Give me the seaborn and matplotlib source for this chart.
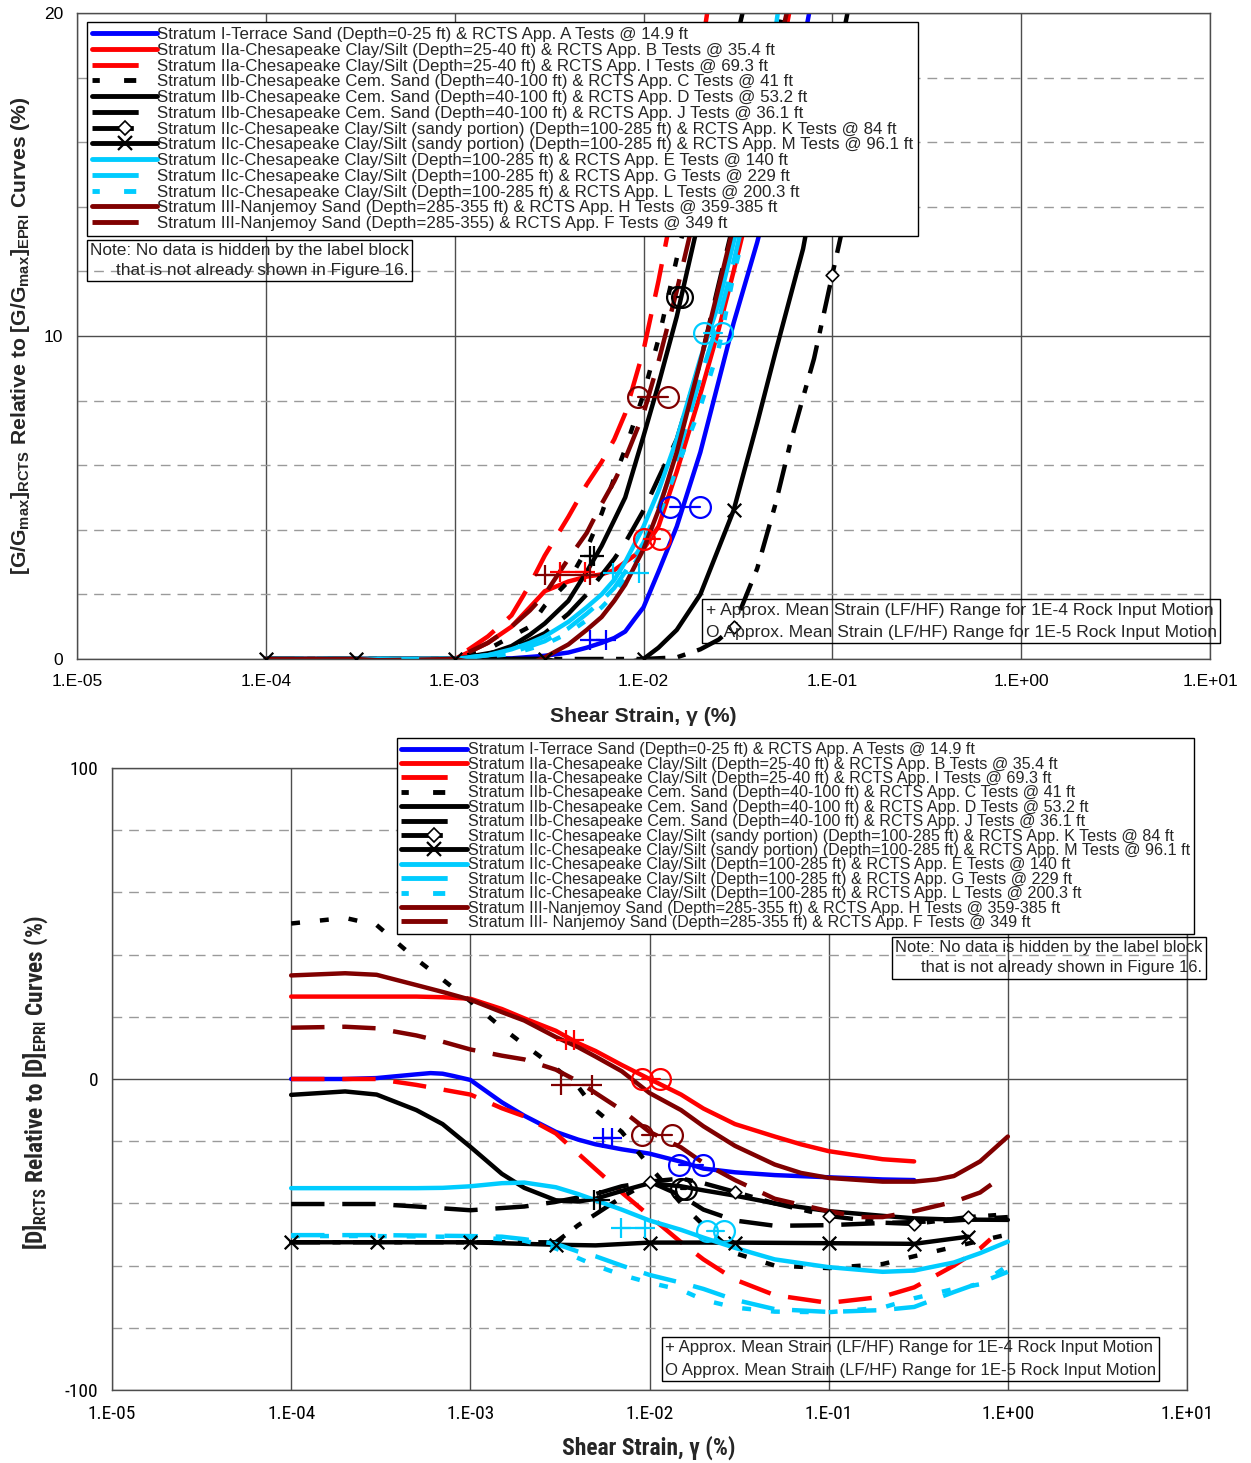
import matplotlib
matplotlib.use("Agg")
import numpy as np
import pandas as pd
import matplotlib.pyplot as plt
from matplotlib.lines import Line2D
from matplotlib.ticker import FixedLocator, FixedFormatter, LogLocator, NullFormatter, MultipleLocator
from matplotlib import font_manager
from matplotlib.font_manager import FontProperties
from matplotlib.textpath import TextPath
import seaborn as sns

sns.set_style("white")
BASE = ["Liberation Sans", "DejaVu Sans"]
plt.rcParams["font.family"] = BASE
plt.rcParams["axes.unicode_minus"] = False

# ---------------------------------------------------------------- series
ORDER = ["A", "B", "I", "C", "D", "J", "K", "M", "E", "G", "L", "H", "F"]

LABELS_G = [
    "Stratum I-Terrace Sand (Depth=0-25 ft) & RCTS App. A Tests @ 14.9 ft",
    "Stratum IIa-Chesapeake Clay/Silt (Depth=25-40 ft) & RCTS App. B Tests @ 35.4 ft",
    "Stratum IIa-Chesapeake Clay/Silt (Depth=25-40 ft) & RCTS App. I Tests @ 69.3 ft",
    "Stratum IIb-Chesapeake Cem. Sand (Depth=40-100 ft) & RCTS App. C Tests @ 41 ft",
    "Stratum IIb-Chesapeake Cem. Sand (Depth=40-100 ft) & RCTS App. D Tests @ 53.2 ft",
    "Stratum IIb-Chesapeake Cem. Sand (Depth=40-100 ft) & RCTS App. J Tests @ 36.1 ft",
    "Stratum IIc-Chesapeake Clay/Silt (sandy portion) (Depth=100-285 ft) & RCTS App. K Tests @ 84 ft",
    "Stratum IIc-Chesapeake Clay/Silt (sandy portion) (Depth=100-285 ft) & RCTS App. M Tests @ 96.1 ft",
    "Stratum IIc-Chesapeake Clay/Silt (Depth=100-285 ft) & RCTS App. E Tests @ 140 ft",
    "Stratum IIc-Chesapeake Clay/Silt (Depth=100-285 ft) & RCTS App. G Tests @ 229 ft",
    "Stratum IIc-Chesapeake Clay/Silt (Depth=100-285 ft) & RCTS App. L Tests @ 200.3 ft",
    "Stratum III-Nanjemoy Sand (Depth=285-355 ft) & RCTS App. H Tests @ 359-385 ft",
    "Stratum III-Nanjemoy Sand (Depth=285-355) & RCTS App. F Tests @ 349 ft",
]
LABELS_D = LABELS_G[:-1] + [
    "Stratum III- Nanjemoy Sand (Depth=285-355 ft) & RCTS App. F Tests @ 349 ft"]

# G/Gmax difference (%) versus shear strain (%)
g_strain_A = [1e-4, 1e-3, 2e-3, 3e-3, 4e-3, 5e-3, 6e-3, 7e-3, 8e-3, 9e-3, 1e-2, 1.2e-2, 1.5e-2, 2e-2, 2.5e-2, 3e-2, 4e-2, 5e-2, 7e-2, 8e-2]
g_value_A = [0, 0, 0.02, 0.1, 0.2, 0.35, 0.5, 0.65, 0.85, 1.25, 1.6, 2.7, 4.1, 6.4, 8.6, 10.4, 12.9, 15.1, 19.0, 20.8]
g_strain_B = [1e-4, 3e-4, 1e-3, 1.5e-3, 2e-3, 2.5e-3, 3e-3, 4e-3, 5e-3, 6e-3, 7e-3, 8e-3, 1e-2, 1.2e-2, 1.5e-2, 2e-2, 2.5e-2, 3e-2, 4e-2, 5e-2, 6e-2]
g_value_B = [0, -0.05, 0, 0.5, 1.0, 1.6, 2.1, 2.4, 2.55, 2.62, 2.75, 3.0, 3.4, 4.1, 5.8, 8.2, 10.2, 12.0, 15.0, 17.8, 20.2]
g_strain_I = [1e-4, 3e-4, 6e-4, 1e-3, 1.5e-3, 2e-3, 2.5e-3, 3e-3, 4e-3, 5e-3, 6e-3, 7e-3, 8e-3, 1e-2, 1.2e-2, 1.5e-2, 2e-2, 2.2e-2]
g_value_I = [0, -0.05, -0.1, 0, 0.7, 1.35, 2.3, 3.2, 4.4, 5.4, 6.1, 6.8, 7.6, 9.56, 11.7, 14.6, 18.6, 20.2]
g_strain_C = [1e-4, 1e-3, 1.5e-3, 2e-3, 2.5e-3, 3e-3, 4e-3, 5e-3, 6e-3, 7e-3, 8e-3, 1e-2, 1.2e-2, 1.5e-2, 2e-2, 3e-2]
g_value_C = [0, 0, 0.3, 0.7, 1.0, 1.65, 2.4, 3.4, 4.5, 5.6, 6.5, 8.2, 9.9, 12.4, 15.5, 20.5]
g_strain_D = [1e-4, 1e-3, 1.5e-3, 2e-3, 2.5e-3, 3e-3, 4e-3, 5e-3, 6e-3, 7e-3, 8e-3, 1e-2, 1.2e-2, 1.5e-2, 2e-2, 2.5e-2, 3e-2, 3.5e-2]
g_value_D = [0, 0, 0.15, 0.4, 0.75, 1.1, 1.8, 2.7, 3.5, 4.3, 5.0, 6.9, 8.5, 10.6, 13.8, 16.5, 18.8, 20.5]
g_strain_J = [1e-4, 1e-3, 2e-3, 3e-3, 4e-3, 5e-3, 6e-3, 7e-3, 8e-3, 1e-2, 1.2e-2, 1.5e-2, 2e-2, 2.5e-2, 3e-2, 4e-2, 5e-2, 6e-2]
g_value_J = [0, 0, 0.3, 0.8, 1.4, 2.0, 2.6, 3.1, 3.6, 4.6, 5.6, 6.8, 9.2, 11.6, 13.5, 16.5, 19.0, 21.0]
g_strain_K = [1e-4, 3e-4, 1e-3, 3e-3, 1e-2, 1.5e-2, 2e-2, 2.5e-2, 3e-2, 4e-2, 5e-2, 6e-2, 7e-2, 8e-2, 1e-1, 1.2e-1, 1.5e-1, 2e-1]
g_value_K = [0, 0, 0, 0, 0, 0.05, 0.3, 0.6, 1.0, 2.8, 4.8, 6.7, 8.1, 9.3, 11.9, 14.0, 16.8, 20.5]
g_strain_M = [1e-4, 3e-4, 1e-3, 3e-3, 5e-3, 7e-3, 1e-2, 1.2e-2, 1.5e-2, 2e-2, 3e-2, 4e-2, 5e-2, 7e-2, 1e-1, 1.25e-1]
g_value_M = [0, 0, 0, 0, -0.25, -0.2, 0, 0.35, 0.9, 2.0, 4.6, 7.3, 9.5, 12.7, 17.6, 20.5]
g_strain_E = [1e-4, 1e-3, 1.5e-3, 2e-3, 2.5e-3, 3e-3, 4e-3, 5e-3, 6e-3, 7e-3, 8e-3, 1e-2, 1.2e-2, 1.5e-2, 2e-2, 2.5e-2, 3e-2, 4e-2, 5e-2, 5.2e-2]
g_value_E = [0, 0, 0.12, 0.3, 0.5, 0.7, 1.15, 1.6, 2.0, 2.45, 3.0, 4.1, 5.2, 6.8, 9.3, 11.0, 12.9, 16.0, 19.5, 20.2]
g_strain_G = [1e-4, 1e-3, 2e-3, 3e-3, 4e-3, 5e-3, 6e-3, 7e-3, 8e-3, 1e-2, 1.2e-2, 1.5e-2, 2e-2, 2.5e-2, 3e-2, 4e-2, 5e-2, 5.5e-2]
g_value_G = [0, 0, 0.2, 0.55, 0.95, 1.4, 1.8, 2.2, 2.7, 3.6, 4.7, 6.2, 8.7, 10.5, 12.3, 15.4, 18.5, 20.2]
g_strain_L = [1e-4, 1e-3, 2e-3, 3e-3, 4e-3, 5e-3, 6e-3, 7e-3, 8e-3, 1e-2, 1.2e-2, 1.5e-2, 2e-2, 2.5e-2, 3e-2, 4e-2, 5e-2, 6e-2]
g_value_L = [0, 0, 0.15, 0.45, 0.8, 1.2, 1.6, 2.0, 2.5, 3.4, 4.4, 5.9, 7.8, 9.6, 11.9, 14.8, 17.5, 20.3]
g_strain_H = [1e-4, 3e-4, 6e-4, 1e-3, 1.5e-3, 2e-3, 2.5e-3, 3e-3, 4e-3, 5e-3, 6e-3, 7e-3, 8e-3, 1e-2, 1.2e-2, 1.5e-2, 2e-2, 2.5e-2, 3e-2, 4e-2, 5e-2, 6e-2]
g_value_H = [0, 0, -0.1, 0, -0.2, -0.25, -0.15, 0.05, 0.45, 0.9, 1.3, 1.8, 2.3, 3.4, 4.6, 6.4, 9.2, 11.5, 13.4, 16.2, 18.5, 20.5]
g_strain_F = [1e-4, 3e-4, 1e-3, 1.5e-3, 2e-3, 2.5e-3, 3e-3, 4e-3, 5e-3, 6e-3, 7e-3, 8e-3, 1e-2, 1.2e-2, 1.5e-2, 2e-2, 2.5e-2, 3e-2]
g_value_F = [0, -0.05, 0, 0.5, 1.0, 1.5, 2.0, 3.1, 3.9, 4.8, 5.5, 6.2, 7.6, 9.2, 11.4, 14.5, 17.5, 20.3]

# damping difference (%) versus shear strain (%)
d_strain_A = [1e-4, 2e-4, 3e-4, 5e-4, 6e-4, 7e-4, 8e-4, 1e-3, 1.5e-3, 2e-3, 3e-3, 4e-3, 5e-3, 7e-3, 1e-2, 1.5e-2, 2e-2, 3e-2, 5e-2, 1e-1, 2e-1, 3e-1]
d_value_A = [0, 0, 0.3, 1.5, 1.9, 1.7, 1.0, -0.3, -7.5, -11.8, -17.0, -19.5, -21.0, -22.6, -24.0, -26.6, -28.8, -30.0, -30.9, -31.6, -32.3, -32.5]
d_strain_B = [1e-4, 3e-4, 5e-4, 7e-4, 1e-3, 1.5e-3, 2e-3, 3e-3, 4e-3, 5e-3, 7e-3, 1e-2, 1.5e-2, 2e-2, 3e-2, 5e-2, 7e-2, 1e-1, 2e-1, 3e-1]
d_value_B = [26.5, 26.5, 26.5, 26.3, 25.8, 22.5, 19.5, 15.5, 11.5, 9.0, 4.5, 0.0, -5.0, -9.5, -14.5, -18.5, -21.0, -23.2, -25.8, -26.5]
d_strain_I = [1e-4, 2e-4, 3e-4, 5e-4, 7e-4, 1e-3, 1.5e-3, 2e-3, 3e-3, 4e-3, 5e-3, 7e-3, 1e-2, 1.5e-2, 2e-2, 3e-2, 5e-2, 1e-1, 2e-1, 3e-1, 5e-1, 7e-1, 8e-1]
d_value_I = [0, 0, 0, -1.9, -3.4, -5.0, -9.4, -12.0, -17.5, -24.0, -29.0, -36.5, -44.0, -52.5, -58.0, -64.5, -69.5, -72.0, -70.0, -67.0, -60.0, -54.5, -51.5]
d_strain_C = [1e-4, 2e-4, 3e-4, 5e-4, 7e-4, 1e-3, 1.5e-3, 2e-3, 3e-3, 4e-3, 5e-3, 7e-3, 1e-2, 1.5e-2, 2e-2, 3e-2, 5e-2, 1e-1, 2e-1, 3e-1, 5e-1, 7e-1, 1.0]
d_value_C = [50.0, 51.8, 49.5, 38.5, 32.0, 25.0, 16.5, 11.0, 3.5, -2.5, -10.0, -17.0, -28.0, -40.0, -47.0, -56.0, -60.0, -60.8, -59.5, -57.0, -54.0, -52.0, -50.0]
d_strain_D = [1e-4, 2e-4, 3e-4, 5e-4, 7e-4, 1e-3, 1.5e-3, 2e-3, 3e-3, 4e-3, 5e-3, 7e-3, 1e-2, 1.5e-2, 2e-2, 3e-2, 5e-2, 1e-1, 2e-1, 3e-1, 5e-1, 1.0]
d_value_D = [-5.1, -4.0, -5.0, -10.0, -14.5, -21.8, -30.5, -35.0, -39.0, -39.4, -38.5, -36.0, -33.5, -34.5, -35.8, -37.5, -40.0, -42.5, -44.0, -44.8, -45.2, -45.3]
d_strain_J = [1e-4, 3e-4, 5e-4, 1e-3, 2e-3, 3e-3, 5e-3, 7e-3, 1e-2, 1.5e-2, 2e-2, 3e-2, 5e-2, 1e-1, 2e-1, 3e-1, 5e-1, 1.0]
d_value_J = [-40.2, -40.2, -41.0, -42.2, -41.0, -39.5, -37.0, -34.5, -33.0, -37.5, -42.0, -45.5, -47.2, -47.0, -46.3, -46.0, -45.5, -44.4]
d_strain_K = [1e-4, 3e-4, 1e-3, 3e-3, 4e-3, 5e-3, 7e-3, 1e-2, 1.5e-2, 2e-2, 3e-2, 5e-2, 1e-1, 2e-1, 3e-1, 6e-1, 1.0]
d_value_K = [-52.5, -52.5, -52.5, -52.5, -47.0, -43.5, -38.0, -33.0, -32.0, -33.5, -36.3, -40.0, -44.0, -46.2, -46.6, -44.4, -43.5]
d_strain_M = [1e-4, 3e-4, 1e-3, 2e-3, 3e-3, 5e-3, 1e-2, 3e-2, 1e-1, 3e-1, 6e-1]
d_value_M = [-52.5, -52.5, -52.5, -53.0, -53.3, -53.5, -52.6, -52.6, -52.8, -53.0, -50.7]
d_strain_E = [1e-4, 3e-4, 5e-4, 7e-4, 1e-3, 1.5e-3, 2e-3, 3e-3, 4e-3, 5e-3, 7e-3, 1e-2, 1.5e-2, 2e-2, 3e-2, 5e-2, 1e-1, 2e-1, 3e-1, 5e-1, 7e-1, 1.0]
d_value_E = [-35.1, -35.1, -35.1, -35.0, -34.5, -33.5, -33.3, -34.8, -37.0, -39.0, -42.0, -45.5, -48.5, -51.0, -54.3, -58.0, -60.5, -62.0, -61.6, -59.0, -56.0, -52.3]
d_strain_G = [1e-4, 3e-4, 1e-3, 1.5e-3, 2e-3, 3e-3, 4e-3, 5e-3, 7e-3, 1e-2, 1.5e-2, 2e-2, 3e-2, 5e-2, 1e-1, 2e-1, 3e-1, 5e-1, 7e-1, 1.0]
d_value_G = [-50.2, -50.2, -50.5, -50.7, -51.5, -53.0, -55.5, -57.0, -60.0, -63.0, -65.5, -67.5, -71.0, -74.0, -74.9, -74.3, -73.3, -68.5, -65.5, -62.0]
d_strain_L = [1e-4, 3e-4, 1e-3, 2e-3, 3e-3, 5e-3, 7e-3, 1e-2, 1.5e-2, 2e-2, 3e-2, 5e-2, 1e-1, 2e-1, 3e-1, 5e-1, 7e-1, 1.0]
d_value_L = [-50.5, -50.5, -50.8, -52.0, -54.5, -60.0, -63.0, -65.5, -67.8, -71.0, -73.5, -74.8, -75.0, -73.5, -70.5, -67.5, -66.0, -60.0]
d_strain_H = [1e-4, 2e-4, 3e-4, 5e-4, 7e-4, 1e-3, 1.5e-3, 2e-3, 3e-3, 4e-3, 5e-3, 7e-3, 1e-2, 1.5e-2, 2e-2, 3e-2, 5e-2, 7e-2, 1e-1, 2e-1, 3e-1, 4e-1, 5e-1, 7e-1, 1.0]
d_value_H = [33.3, 34.0, 33.5, 30.2, 28.0, 25.5, 21.5, 18.8, 13.5, 10.2, 7.2, 2.5, -4.5, -10.0, -15.2, -21.5, -27.5, -30.2, -31.8, -33.0, -33.0, -32.3, -31.2, -26.5, -18.5]
d_strain_F = [1e-4, 2e-4, 3e-4, 5e-4, 7e-4, 1e-3, 1.5e-3, 2e-3, 3e-3, 4e-3, 5e-3, 7e-3, 1e-2, 1.5e-2, 2e-2, 3e-2, 5e-2, 1e-1, 1.5e-1, 2e-1, 3e-1, 5e-1, 7e-1, 8.5e-1]
d_value_F = [16.5, 16.8, 16.3, 14.0, 12.0, 9.5, 7.5, 6.3, 3.0, -0.8, -4.5, -10.0, -17.0, -22.0, -27.0, -32.5, -38.5, -42.5, -44.4, -44.4, -42.5, -39.5, -36.5, -33.0]

# points of the K (diamond) and M (cross) series that carry a marker
g_K_marks = [8, 14]
g_M_marks = [0, 1, 2, 3, 6, 10, 14]
d_K_marks = [7, 10, 12, 14, 15]
d_M_marks = [0, 1, 2, 4, 6, 7, 8, 9, 10]

# mean strain ranges: "+" for 1E-4 and "O" for 1E-5 rock input motion
g_plus_curve = ["A", "B", "F", "D", "E"]
g_plus_lo = [5.2e-3, 3.6e-3, 3.0e-3, 5.2e-3, 6.9e-3]
g_plus_hi = [6.3e-3, 4.9e-3, 5.2e-3, 5.5e-3, 9.5e-3]
g_plus_val = [0.6, 2.7, 2.6, 3.2, 2.66]
g_circ_curve = ["A", "B", "F", "D", "E"]
g_circ_lo = [1.38e-2, 1.0e-2, 9.4e-3, 1.5e-2, 2.1e-2]
g_circ_hi = [2.0e-2, 1.23e-2, 1.35e-2, 1.6e-2, 2.6e-2]
g_circ_val = [4.7, 3.7, 8.1, 11.2, 10.1]

d_plus_curve = ["B", "F", "A", "D", "E"]
d_plus_lo = [3.4e-3, 3.2e-3, 5.5e-3, 4.9e-3, 6.9e-3]
d_plus_hi = [3.8e-3, 4.8e-3, 6.2e-3, 5.3e-3, 9.4e-3]
d_plus_val = [12.5, -2.0, -19.0, -39.0, -48.0]
d_circ_curve = ["B", "F", "A", "D", "E"]
d_circ_lo = [9.1e-3, 9.1e-3, 1.47e-2, 1.5e-2, 2.1e-2]
d_circ_hi = [1.14e-2, 1.33e-2, 2.0e-2, 1.6e-2, 2.6e-2]
d_circ_val = [0.0, -18.0, -27.6, -35.4, -49.0]

X_TICKS = [1e-5, 1e-4, 1e-3, 1e-2, 1e-1, 1e0, 1e1]
X_TICKLABELS = ["1.E-05", "1.E-04", "1.E-03", "1.E-02", "1.E-01", "1.E+00", "1.E+01"]

G_STRAIN = dict(A=g_strain_A, B=g_strain_B, I=g_strain_I, C=g_strain_C, D=g_strain_D, J=g_strain_J, K=g_strain_K,
                M=g_strain_M, E=g_strain_E, G=g_strain_G, L=g_strain_L, H=g_strain_H, F=g_strain_F)
G_VALUE = dict(A=g_value_A, B=g_value_B, I=g_value_I, C=g_value_C, D=g_value_D, J=g_value_J, K=g_value_K,
               M=g_value_M, E=g_value_E, G=g_value_G, L=g_value_L, H=g_value_H, F=g_value_F)
D_STRAIN = dict(A=d_strain_A, B=d_strain_B, I=d_strain_I, C=d_strain_C, D=d_strain_D, J=d_strain_J, K=d_strain_K,
                M=d_strain_M, E=d_strain_E, G=d_strain_G, L=d_strain_L, H=d_strain_H, F=d_strain_F)
D_VALUE = dict(A=d_value_A, B=d_value_B, I=d_value_I, C=d_value_C, D=d_value_D, J=d_value_J, K=d_value_K,
               M=d_value_M, E=d_value_E, G=d_value_G, L=d_value_L, H=d_value_H, F=d_value_F)

# ---------------------------------------------------------------- fonts
def find_condensed():
    entries = font_manager.fontManager.ttflist
    names = {f.name for f in entries}
    for nm in ["Liberation Sans Narrow", "Arial Narrow", "Roboto Condensed", "Open Sans Condensed",
               "Noto Sans Condensed", "DejaVu Sans Condensed"]:
        if nm in names:
            return dict(family=[nm] + BASE, stretch="normal")
    for base in ["Roboto", "Noto Sans", "Open Sans", "DejaVu Sans"]:
        for f in entries:
            if f.name == base and str(f.stretch) in ("condensed", "semi-condensed"):
                return dict(family=[base] + BASE, stretch=str(f.stretch))
    return dict(family=BASE, stretch="normal")


def text_width(family, stretch, weight="normal"):
    sample = "Stratum IIc-Chesapeake Clay/Silt (Depth=100-285 ft) & RCTS App. E Tests @ 140 ft"
    fp = FontProperties(family=family, stretch=stretch, weight=weight, size=10)
    return TextPath((0, 0), sample, prop=fp).get_extents().width


COND = find_condensed()
RATIO = text_width(COND["family"], COND["stretch"]) / text_width(BASE, "normal")


def bfont(size_pt, weight="normal"):
    """Condensed face for the damping panel's axis text, scaled to keep label lengths."""
    return FontProperties(family=COND["family"], stretch=COND["stretch"], weight=weight,
                          size=size_pt / RATIO)


def px(size_pt):
    return size_pt * 100 / 72.0

# ---------------------------------------------------------------- styles
BLUE, RED, BLACK, CYAN, MAROON = "#0000FF", "#FF0000", "#000000", "#00CCFF", "#800000"
COLORS = dict(A=BLUE, B=RED, I=RED, C=BLACK, D=BLACK, J=BLACK, K=BLACK, M=BLACK,
              E=CYAN, G=CYAN, L=CYAN, H=MAROON, F=MAROON)
LONG = (7.5, 4.0)
DOT = (2.0, 4.5)
DASHDOT = (6.5, 2.8, 1.8, 2.8)
DASHES = dict(A="", B="", I=LONG, C=DOT, D="", J=LONG, K=DASHDOT, M="",
              E="", G=LONG, L=DOT, H="", F=LONG)
LEGEND_DASH = dict(A="-", B="-", I=(0, (9.5, 20)), C=(1.0, (2.5, 5.0)), D="-", J=(0, (9.5, 20)),
                   K=(0, (8.5, 20)), M="-", E="-", G=(0, (9.5, 20)), L=(1.0, (2.5, 5.0)), H="-",
                   F=(0, (9.5, 20)))
LW = 3.2
GRID_DARK = "#4d4d4d"
GRID_LIGHT = "#9a9a9a"


def long_frame(strains, values):
    rows = []
    for key in ORDER:
        for s, v in zip(strains[key], values[key]):
            rows.append((key, s, v))
    return pd.DataFrame(rows, columns=["curve", "strain", "value"])


def draw_panel(ax, strains, values, k_marks, m_marks, plus, circ):
    ax.set_xscale("log")
    df = long_frame(strains, values)
    sns.lineplot(data=df, x="strain", y="value", hue="curve", style="curve",
                 hue_order=ORDER, style_order=ORDER, palette=COLORS, dashes=DASHES,
                 sort=False, estimator=None, legend=False, linewidth=LW, ax=ax, zorder=2)
    ks = np.asarray(strains["K"])[k_marks]
    kv = np.asarray(values["K"])[k_marks]
    sns.scatterplot(x=ks, y=kv, marker="D", s=42, color="white", edgecolor="black",
                    linewidth=1.2, zorder=3, ax=ax)
    ms = np.asarray(strains["M"])[m_marks]
    mv = np.asarray(values["M"])[m_marks]
    sns.scatterplot(x=ms, y=mv, marker="x", s=95, color="black", linewidth=1.6, zorder=3, ax=ax)
    for curve, lo, hi, v in zip(*plus):
        ax.plot([lo, hi], [v, v], color=COLORS[curve], lw=1.6, marker="+", ms=15, mew=1.6, zorder=3)
    for curve, lo, hi, v in zip(*circ):
        ax.plot([lo, hi], [v, v], color=COLORS[curve], lw=1.6, marker="o", ms=15, mew=1.6,
                mfc="none", zorder=3)


def style_axes(ax, ylim, ymajor, yminor, tick_fp):
    ax.set_xlim(1e-5, 10)
    ax.set_ylim(*ylim)
    ax.xaxis.set_major_locator(FixedLocator(X_TICKS))
    ax.xaxis.set_major_formatter(FixedFormatter(X_TICKLABELS))
    ax.xaxis.set_minor_locator(LogLocator(base=10, subs=np.arange(2, 10), numticks=20))
    ax.xaxis.set_minor_formatter(NullFormatter())
    ax.yaxis.set_major_locator(FixedLocator(ymajor))
    ax.yaxis.set_minor_locator(MultipleLocator(yminor))
    ax.grid(axis="x", which="major", color=GRID_DARK, lw=1.0, ls="-")
    ax.grid(axis="y", which="major", color=GRID_DARK, lw=1.0, ls="-")
    ax.grid(axis="y", which="minor", color=GRID_LIGHT, lw=1.0, ls=(0, (7, 5)))
    ax.set_axisbelow(True)
    ax.tick_params(axis="x", which="major", direction="in", length=0, pad=11)
    ax.tick_params(axis="x", which="minor", direction="in", length=5, width=1, color=GRID_DARK)
    ax.tick_params(axis="y", which="major", direction="out", length=5, width=1, color=GRID_DARK, pad=5)
    ax.tick_params(axis="y", which="minor", direction="out", length=4, width=1, color=GRID_DARK)
    for lab in ax.get_xticklabels() + ax.get_yticklabels():
        lab.set_fontproperties(tick_fp)
        lab.set_color("black")
    for sp in ax.spines.values():
        sp.set_visible(True)
        sp.set_color(GRID_DARK)
        sp.set_linewidth(1.0)


def legend_handles():
    handles = []
    for key in ORDER:
        kw = dict(color=COLORS[key], lw=3.5, linestyle=LEGEND_DASH[key])
        if key == "K":
            kw.update(marker="D", ms=7, mfc="white", mec="black", mew=1.2)
        if key == "M":
            kw.update(marker="x", ms=10, mec="black", mew=1.6)
        handles.append(Line2D([], [], **kw))
    return handles


def fitted_legend(ax, labels, fp, target_pitch, **kw):
    """Legend whose row pitch (pixels) is tuned to target_pitch."""
    size_px = px(fp.get_size_in_points())
    spacing = 0.0
    for _ in range(3):
        leg = ax.legend(legend_handles(), labels, prop=fp, labelspacing=spacing, **kw)
        fig.canvas.draw()
        ys = [t.get_window_extent().y0 for t in leg.get_texts()]
        pitch = (ys[0] - ys[-1]) / (len(ys) - 1)
        spacing += (target_pitch - pitch) / size_px
    leg = ax.legend(legend_handles(), labels, prop=fp, labelspacing=spacing, **kw)
    leg.get_frame().set_linewidth(1.0)
    leg.set_zorder(6)
    return leg


fig = plt.figure(figsize=(12.51, 14.63), dpi=100)
ax_g = fig.add_axes([77 / 1251, 1 - 659 / 1463, (1210 - 77) / 1251, (659 - 13) / 1463])
ax_d = fig.add_axes([112 / 1251, 1 - 1390 / 1463, (1187 - 112) / 1251, (1390 - 768) / 1463])

draw_panel(ax_g, G_STRAIN, G_VALUE, g_K_marks, g_M_marks,
           (g_plus_curve, g_plus_lo, g_plus_hi, g_plus_val),
           (g_circ_curve, g_circ_lo, g_circ_hi, g_circ_val))
draw_panel(ax_d, D_STRAIN, D_VALUE, d_K_marks, d_M_marks,
           (d_plus_curve, d_plus_lo, d_plus_hi, d_plus_val),
           (d_circ_curve, d_circ_lo, d_circ_hi, d_circ_val))

style_axes(ax_g, (0, 20), [0, 10, 20], 2, FontProperties(family=BASE, size=12.5))
style_axes(ax_d, (-100, 100), [-100, 0, 100], 20, bfont(12.2))

# axis titles
ax_g.set_xlabel("Shear Strain, γ (%)", fontproperties=FontProperties(family=BASE, size=15.2, weight="bold"))
ax_g.xaxis.set_label_coords(0.4996, -0.075)
ax_g.set_ylabel(r"[G/G$_{\mathregular{max}}$]$_{\mathregular{RCTS}}$ Relative to "
                r"[G/G$_{\mathregular{max}}$]$_{\mathregular{EPRI}}$ Curves (%)",
                fontproperties=FontProperties(family=BASE, size=15.2, weight="bold"))
ax_g.yaxis.set_label_coords(-0.040, 0.5)

ax_d.set_xlabel("Shear Strain, γ (%)", fontproperties=bfont(14.8, "bold"))
ax_d.xaxis.set_label_coords(0.4995, -0.074)
ax_d.set_ylabel(r"[D]$_{\mathregular{RCTS}}$ Relative to [D]$_{\mathregular{EPRI}}$ Curves (%)",
                fontproperties=bfont(14.6, "bold"))
ax_d.yaxis.set_label_coords(-0.058, 0.495)

# legends
fp_leg_g = FontProperties(family=BASE, size=12.2)
fitted_legend(ax_g, LABELS_G, fp_leg_g, 15.75, loc="upper left", bbox_to_anchor=(0.0088, 0.986),
              borderaxespad=0, frameon=True, fancybox=False, framealpha=1, edgecolor="black",
              handlelength=3.85, handletextpad=0.0, borderpad=0.3, numpoints=1)

fp_leg_d = FontProperties(family=BASE, size=11.6)
s_px = px(fp_leg_d.get_size_in_points())
fitted_legend(ax_d, LABELS_D, fp_leg_d, 14.4, loc="upper left", bbox_to_anchor=(0.265, 1.048),
              borderaxespad=0, frameon=True, fancybox=False, framealpha=1, edgecolor="black",
              handlelength=66 / s_px, handletextpad=0.05, borderpad=4.0 / s_px, numpoints=1)

# note and marker-key boxes (transparent, outlined)
NOTE = "Note: No data is hidden by the label block\nthat is not already shown in Figure 16."
KEY = ("+ Approx. Mean Strain (LF/HF) Range for 1E-4 Rock Input Motion\n"
       "O Approx. Mean Strain (LF/HF) Range for 1E-5 Rock Input Motion")
box = dict(boxstyle="square,pad=0.2", fc="none", ec="black", lw=1.0)

ax_g.text(0.0115, 0.644, NOTE, transform=ax_g.transAxes, ha="left", va="top", multialignment="right",
          fontproperties=FontProperties(family=BASE, size=12.4), linespacing=20 / (0.83 * px(12.4)),
          bbox=box, zorder=7)
ax_g.text(0.555, 0.0867, KEY, transform=ax_g.transAxes, ha="left", va="top", multialignment="left",
          fontproperties=FontProperties(family=BASE, size=12.6), linespacing=22 / (0.80 * px(12.6)),
          bbox=box, zorder=7, clip_on=False)
ax_d.text(0.7284, 0.7235, NOTE, transform=ax_d.transAxes, ha="left", va="top", multialignment="right",
          fontproperties=FontProperties(family=BASE, size=11.9), linespacing=20 / (0.83 * px(11.9)),
          bbox=box, zorder=7)
ax_d.text(0.5144, 0.0804, KEY, transform=ax_d.transAxes, ha="left", va="top", multialignment="left",
          fontproperties=FontProperties(family=BASE, size=12.1), linespacing=22 / (0.80 * px(12.1)),
          bbox=box, zorder=7)

fig.savefig("out.png", dpi=100, facecolor="white")
